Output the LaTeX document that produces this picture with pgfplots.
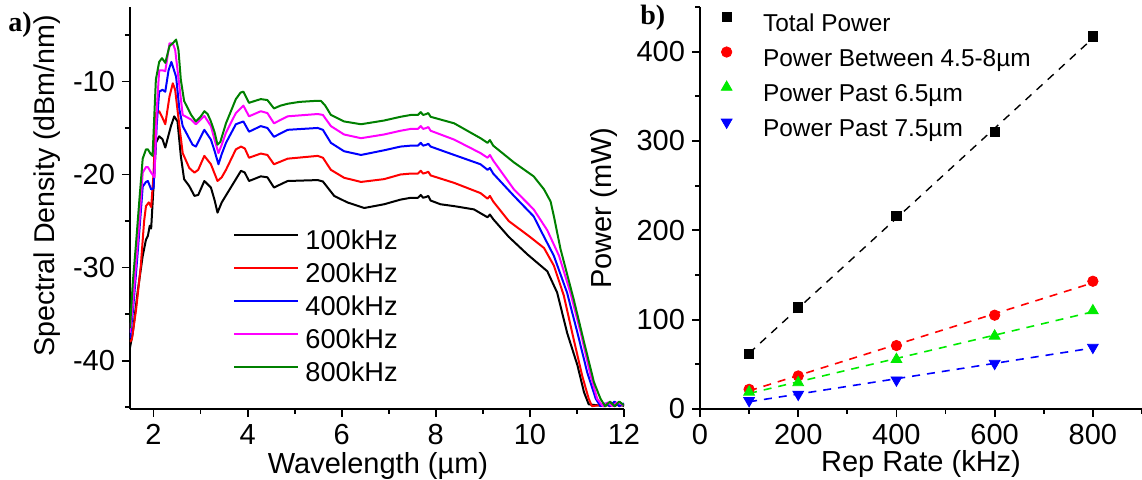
\documentclass[border=0pt]{standalone}
\usepackage{fontspec}
\setmainfont{Liberation Sans}
\newfontfamily\serifbf{Liberation Serif}
\usepackage{pgfplots}
\pgfplotsset{compat=1.18}
\definecolor{dgreen}{RGB}{0,128,0}
\definecolor{lgreen}{RGB}{0,235,0}
\definecolor{mag}{RGB}{255,0,255}
\pgfplotsset{mystyle/.style={
  scale only axis, axis lines=left, axis line style={-, line width=0.9pt},
  tick align=outside, major tick length=4pt, minor tick length=2.5pt,
  every tick/.style={black, line width=0.9pt},
  tick label style={font=\fontsize{14.5}{17}\selectfont},
  label style={font=\fontsize{14.5}{17}\selectfont, inner sep=0pt},
  /pgf/number format/assume math mode=true,
  legend cell align=left,
}}
\begin{document}
\begin{tikzpicture}[x=1pt,y=1pt]
\begin{axis}[mystyle, at={(65pt,35.5pt)}, anchor=south west,
  width=247pt, height=201pt,
  xmin=1.5, xmax=12, ymin=-45.2, ymax=-2,
  xtick={2,4,...,12}, minor xtick={3,5,7,9,11},
  ytick={-40,-30,-20,-10}, yticklabels={-40,-30,-20,-10},
  minor ytick={-45,-35,-25,-15,-5},
  xlabel={Wavelength (µm)}, ylabel={Spectral Density (dBm/nm)},
  xlabel style={at={(axis description cs:0.502,-0.16)}, anchor=base},
  ylabel style={at={(axis description cs:-0.152,0.555)}, anchor=base, font=\fontsize{14.3}{17}\selectfont},
  legend style={draw=none, fill=none, at={(0.2085,0.448)}, anchor=north west,
    font=\fontsize{13.6}{16}\selectfont, inner sep=0pt, row sep=3.5pt, column sep=3pt,
    nodes={inner sep=0pt, text height=10pt, text depth=3pt}},
  legend image code/.code={\draw[#1] (0pt,3.5pt) -- (32pt,3.5pt);},
  every axis plot/.append style={line width=1pt, line join=round},
]
\addplot[black] coordinates {
(1.50,-38.6) (1.56,-37.0) (1.66,-32.7) (1.77,-28.75) (1.84,-27.0) (1.88,-26.6) (1.92,-25.5) (1.95,-25.8)
(2.02,-19.5) (2.05,-16.6) (2.12,-15.9) (2.19,-16.2) (2.25,-17.1) (2.37,-14.8) (2.44,-13.75) (2.51,-14.3)
(2.58,-18.0) (2.65,-20.5) (2.76,-21.25) (2.87,-22.3) (2.95,-22.2) (3.08,-20.7) (3.22,-21.4) (3.30,-22.8)
(3.36,-24.1) (3.45,-23.0) (3.57,-22.0) (3.86,-19.6) (3.94,-19.8) (4.03,-20.7) (4.28,-20.2) (4.42,-20.3)
(4.56,-21.4) (4.85,-20.7) (5.49,-20.6) (5.60,-20.75) (5.84,-22.3) (6.12,-23.0) (6.48,-23.6) (6.90,-23.2)
(7.25,-22.7) (7.47,-22.5) (7.62,-22.5) (7.68,-22.2) (7.73,-22.5) (7.80,-22.4) (7.84,-22.3) (7.89,-22.8)
(8.10,-23.2) (8.39,-23.4) (8.81,-23.75) (9.10,-24.6) (9.15,-24.3) (9.22,-24.8) (9.55,-26.7) (9.95,-28.6)
(10.37,-30.4) (10.58,-32.7) (10.79,-37.0) (11.01,-40.5) (11.15,-43.4) (11.25,-44.7) (11.6,-44.9)
(11.7,-44.5) (11.8,-44.9) (11.9,-44.6) (12.0,-44.9)
};
\addlegendentry{100kHz}
\addplot[red] coordinates {
(1.50,-38.0) (1.54,-37.7) (1.63,-34.5) (1.73,-29.8) (1.80,-25.0) (1.84,-23.4) (1.90,-23.0) (1.95,-23.5)
(2.00,-20.0) (2.05,-13.4) (2.12,-13.2) (2.18,-13.8) (2.25,-14.6) (2.34,-11.6) (2.41,-10.2) (2.46,-10.9)
(2.55,-14.8) (2.62,-17.7) (2.76,-19.3) (2.87,-19.8) (2.95,-19.5) (3.08,-18.0) (3.22,-18.9) (3.36,-20.7)
(3.45,-20.3) (3.54,-19.5) (3.75,-17.3) (3.86,-17.0) (3.94,-17.2) (4.03,-18.2) (4.28,-17.75) (4.42,-17.9)
(4.56,-18.9) (4.85,-18.3) (5.49,-18.0) (5.60,-18.2) (5.77,-19.5) (6.05,-20.35) (6.41,-20.8) (6.90,-20.5)
(7.25,-20.0) (7.47,-19.9) (7.62,-19.9) (7.68,-19.6) (7.73,-19.9) (7.80,-19.8) (7.84,-19.7) (7.89,-20.1)
(8.39,-20.9) (8.95,-22.0) (9.10,-22.6) (9.15,-22.3) (9.22,-22.9) (9.55,-25.0) (10.0,-26.7) (10.30,-27.9)
(10.51,-29.8) (10.72,-33.0) (10.93,-37.7) (11.11,-41.6) (11.25,-44.1) (11.32,-44.9) (11.6,-44.7)
(11.7,-44.9) (11.8,-44.5) (11.9,-44.9) (12.0,-44.7)
};
\addlegendentry{200kHz}
\addplot[blue] coordinates {
(1.50,-37.6) (1.56,-34.8) (1.63,-30.5) (1.70,-26.0) (1.77,-21.3) (1.84,-20.8) (1.88,-20.7) (1.95,-21.6)
(2.00,-21.5) (2.07,-14.5) (2.12,-11.1) (2.19,-10.9) (2.25,-11.1) (2.32,-8.8) (2.38,-7.9) (2.48,-9.5)
(2.55,-13.0) (2.62,-14.8) (2.83,-16.8) (2.90,-17.0) (3.08,-15.2) (3.22,-16.25) (3.30,-17.5) (3.38,-18.9)
(3.45,-17.8) (3.54,-16.6) (3.75,-14.6) (3.91,-14.3) (4.03,-15.4) (4.28,-14.8) (4.42,-15.0) (4.56,-15.95)
(4.85,-15.2) (5.49,-15.0) (5.60,-15.2) (5.77,-16.6) (6.05,-17.5) (6.41,-17.9) (6.90,-17.4) (7.25,-17.0)
(7.47,-16.9) (7.62,-16.9) (7.68,-16.6) (7.73,-16.9) (7.80,-16.8) (7.84,-16.7) (7.89,-17.0) (8.39,-17.9)
(8.95,-18.9) (9.10,-19.5) (9.15,-19.3) (9.22,-19.9) (9.66,-22.3) (10.08,-24.5) (10.23,-26.0) (10.51,-28.75)
(10.79,-32.7) (11.01,-37.0) (11.22,-41.3) (11.40,-44.1) (11.50,-44.9) (11.6,-44.6) (11.7,-44.9)
(11.8,-44.4) (11.9,-44.9) (12.0,-44.6)
};
\addlegendentry{400kHz}
\addplot[mag] coordinates {
(1.50,-37.0) (1.56,-34.0) (1.63,-29.5) (1.70,-25.0) (1.77,-19.8) (1.84,-19.2) (1.88,-19.2) (1.95,-19.8)
(2.02,-20.3) (2.07,-13.0) (2.12,-8.8) (2.19,-8.8) (2.25,-8.9) (2.34,-5.9) (2.41,-5.9) (2.46,-6.6)
(2.55,-10.5) (2.62,-13.6) (2.80,-14.1) (2.90,-14.6) (3.08,-13.7) (3.22,-14.8) (3.30,-16.3) (3.38,-17.7)
(3.45,-16.8) (3.54,-15.5) (3.75,-13.4) (3.91,-12.6) (4.03,-13.75) (4.28,-13.2) (4.42,-13.4) (4.56,-14.5)
(4.85,-13.75) (5.49,-13.5) (5.60,-13.6) (5.77,-14.8) (6.05,-15.7) (6.41,-16.1) (6.90,-15.7) (7.25,-15.3)
(7.47,-15.1) (7.62,-15.1) (7.68,-14.8) (7.73,-15.1) (7.80,-15.0) (7.84,-14.9) (7.89,-15.3) (8.39,-16.25)
(8.95,-17.7) (9.10,-18.2) (9.15,-17.9) (9.22,-18.5) (9.66,-21.6) (10.08,-23.75) (10.37,-26.0) (10.62,-28.75)
(10.86,-32.7) (11.08,-37.0) (11.29,-41.6) (11.43,-44.1) (11.55,-44.9) (11.65,-44.5) (11.75,-44.9)
(11.85,-44.5) (12.0,-44.8)
};
\addlegendentry{600kHz}
\addplot[dgreen] coordinates {
(1.50,-36.5) (1.56,-31.6) (1.63,-27.3) (1.70,-22.7) (1.77,-18.3) (1.84,-17.3) (1.88,-17.3) (1.94,-17.8)
(1.98,-18.0) (2.05,-9.8) (2.12,-7.9) (2.18,-7.5) (2.25,-8.0) (2.34,-6.2) (2.41,-5.9) (2.48,-5.5)
(2.53,-6.6) (2.58,-9.8) (2.65,-12.1) (2.80,-13.6) (2.90,-14.3) (3.00,-13.8) (3.08,-13.2) (3.15,-13.5)
(3.22,-14.3) (3.30,-15.5) (3.36,-16.8) (3.42,-16.5) (3.54,-14.5) (3.75,-11.9) (3.85,-11.2) (3.91,-11.1)
(3.97,-11.7) (4.03,-12.3) (4.15,-12.1) (4.28,-11.9) (4.42,-12.0) (4.56,-12.9) (4.70,-12.6) (4.85,-12.4)
(5.10,-12.2) (5.41,-12.1) (5.56,-12.1) (5.65,-12.6) (5.77,-13.6) (6.05,-14.3) (6.41,-14.6) (6.90,-14.2)
(7.25,-13.8) (7.47,-13.6) (7.62,-13.6) (7.68,-13.3) (7.73,-13.6) (7.80,-13.5) (7.84,-13.4) (7.89,-13.8)
(8.39,-14.5) (8.95,-16.1) (9.10,-16.6) (9.15,-16.3) (9.22,-16.9) (9.66,-18.7) (10.08,-20.2) (10.30,-21.6)
(10.44,-22.9) (10.51,-24.5) (10.65,-28.0) (10.93,-33.4) (11.15,-38.0) (11.36,-42.3) (11.50,-44.1)
(11.60,-44.9) (11.7,-44.4) (11.8,-44.9) (11.9,-44.4) (12.0,-44.8)
};
\addlegendentry{800kHz}
\end{axis}

\begin{axis}[mystyle, at={(350pt,35.5pt)}, anchor=south west,
  width=221pt, height=201pt,
  xmin=0, xmax=900, ymin=0, ymax=450,
  xtick={0,200,...,800}, minor xtick={100,300,500,700,900},
  ytick={0,100,...,400}, minor ytick={50,150,250,350,450},
  xlabel={Rep Rate (kHz)}, ylabel={Power (mW)},
  xlabel style={at={(axis description cs:0.5,-0.156)}, anchor=base},
  ylabel style={at={(axis description cs:-0.201,0.5)}, anchor=base},
  legend style={draw=none, fill=none, at={(0.020,0.991)}, anchor=north west,
    font=\fontsize{12.2}{14}\selectfont, inner sep=0pt, row sep=4.5pt, column sep=9.5pt,
    nodes={inner sep=0pt, text height=10pt, text depth=3pt}},
  legend image code/.code={\draw[#1] plot coordinates {(8.5pt,3.5pt)}; \path (0pt,3.5pt) (17pt,3.5pt);},
  clip=false,
]
\addplot[only marks, mark=square*, black, mark size=2.3pt] coordinates {
(100,61.5) (200,113.7) (400,216) (600,310) (800,417)};
\addlegendentry{Total Power}
\addplot[only marks, mark=*, red, mark size=2.6pt] coordinates {
(100,22) (200,37) (400,71) (600,105) (800,143)};
\addlegendentry{Power Between 4.5-8µm}
\addplot[only marks, mark=triangle*, lgreen, mark size=3.1pt] coordinates {
(100,19) (200,29.5) (400,55.5) (600,81.7) (800,110)};
\addlegendentry{Power Past 6.5µm}
\addplot[only marks, mark=triangle*, mark options={rotate=180}, blue, mark size=3.1pt] coordinates {
(100,9.3) (200,16.4) (400,32.4) (600,51) (800,69)};
\addlegendentry{Power Past 7.5µm}
\addplot[forget plot, black, dash pattern=on 4pt off 3.5pt, line width=0.7pt] coordinates {(100,62.4) (800,415)};
\addplot[forget plot, red, dash pattern=on 4pt off 3.5pt, line width=0.8pt] coordinates {(100,20.3) (800,141.2)};
\addplot[forget plot, lgreen, dash pattern=on 4pt off 3.5pt, line width=0.8pt] coordinates {(100,17.4) (800,108.8)};
\addplot[forget plot, blue, dash pattern=on 4pt off 3.5pt, line width=0.8pt] coordinates {(100,8.1) (800,68.3)};
\end{axis}

\node[anchor=base west, inner sep=0pt, font=\serifbf\bfseries\fontsize{14}{16}\selectfont] at (4pt,224pt) {a)};
\node[anchor=base west, inner sep=0pt, font=\serifbf\bfseries\fontsize{14}{16}\selectfont] at (320pt,227.5pt) {b)};
\pgfresetboundingbox
\useasboundingbox (0,0) rectangle (571,240);
\end{tikzpicture}
\end{document}
